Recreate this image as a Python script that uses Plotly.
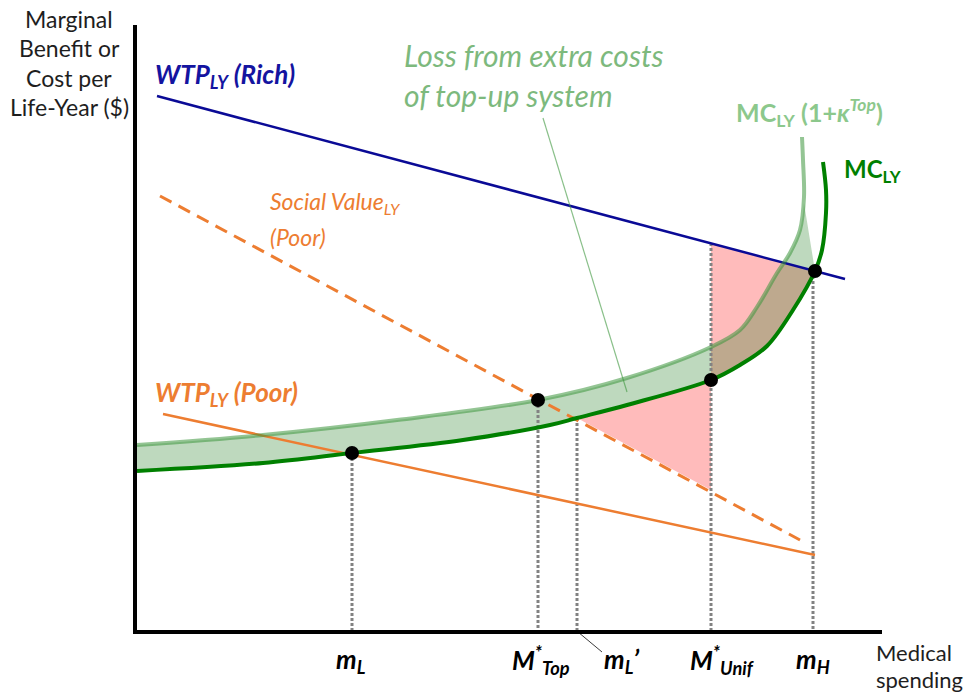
import plotly.graph_objects as go

# ---- data (x: medical spending units, y: $ per life-year units; origin at axis corner) ----
mc_x = [2, 128, 217, 328, 415, 442, 492, 576, 605, 632, 658, 680, 687, 691, 691, 688]
mc_y = [161, 169, 179, 192, 207, 214, 227, 252, 267, 286, 322, 361, 382, 419, 442, 470]

mc_top_x = [2, 128, 262, 403, 492, 576, 605, 622, 642, 655, 665, 669, 668, 667]
mc_top_y = [187, 197, 212, 232, 254, 285, 302, 325, 359, 379, 402, 435, 472, 495]
mc_top_fill_tip = (669, 429)

wtp_rich_x = [22, 710]
wtp_rich_y = [536, 353]
social_x = [25, 665]
social_y = [436, 92]
wtp_poor_x = [28, 680]
wtp_poor_y = [218, 77]

eq_names = ["m_L", "M*_Top", "m_L'", "M*_Unif", "m_H"]
eq_x = [217, 403, 442, 576, 678]
eq_top = [179, 232, 214, 389, 361]
eq_tick_text = ["<b><i>m<sub>L</sub></i></b>",
                "<b><i>M<sup>*</sup><sub>Top</sub></i></b>",
                "<b><i>m<sub>L</sub>’</i></b>",
                "<b><i>M<sup>*</sup><sub>Unif</sub></i></b>",
                "<b><i>m<sub>H</sub></i></b>"]
eq_label_x = [216, 406, 486, 587, 678]

dot_x = [217, 403, 576, 680]
dot_y = [179, 232, 252, 361]

# pink (deadweight) region corners
pink_x = [442, 576, 576, 680]
pink_y = [214, 142, 389, 361]

FONT = "Lato"
fig = go.Figure()

# --- pink region: dark MC segment (invisible) then polygon to it ---
seg_idx = [i for i, x in enumerate(mc_x) if 442 <= x <= 680 and mc_y[i] <= 361]
fig.add_trace(go.Scatter(x=[mc_x[i] for i in seg_idx], y=[mc_y[i] for i in seg_idx],
                         mode="lines", line=dict(width=0, shape="spline"),
                         hoverinfo="skip", showlegend=False))
fig.add_trace(go.Scatter(x=pink_x, y=pink_y, mode="lines",
                         line=dict(width=0), fill="tonexty",
                         fillcolor="rgb(255,187,187)", hoverinfo="skip", showlegend=False))

# --- green band between MC and MC(1+k) ---
dark_idx = [i for i, y in enumerate(mc_y) if y <= 361]
fig.add_trace(go.Scatter(x=[mc_x[i] for i in dark_idx], y=[mc_y[i] for i in dark_idx],
                         mode="lines", line=dict(width=0, shape="spline"),
                         hoverinfo="skip", showlegend=False))
light_idx = [i for i, y in enumerate(mc_top_y) if y <= 402]
fig.add_trace(go.Scatter(x=[mc_top_x[i] for i in light_idx] + [mc_top_fill_tip[0]],
                         y=[mc_top_y[i] for i in light_idx] + [mc_top_fill_tip[1]],
                         mode="lines", line=dict(width=0, shape="spline"),
                         fill="tonexty", fillcolor="rgba(40,130,40,0.30)",
                         hoverinfo="skip", showlegend=False))

# --- dotted verticals ---
for x, top in zip(eq_x, eq_top):
    fig.add_trace(go.Scatter(x=[x, x], y=[top, 0], mode="lines",
                             line=dict(color="rgb(130,130,130)", width=3, dash="3px,2px"),
                             hoverinfo="skip", showlegend=False))

# --- lines ---
fig.add_trace(go.Scatter(x=wtp_rich_x, y=wtp_rich_y, mode="lines",
                         line=dict(color="rgb(10,10,150)", width=2.5), showlegend=False))
fig.add_trace(go.Scatter(x=social_x, y=social_y, mode="lines",
                         line=dict(color="rgb(237,125,49)", width=3, dash="13px,8px"), showlegend=False))
fig.add_trace(go.Scatter(x=wtp_poor_x, y=wtp_poor_y, mode="lines",
                         line=dict(color="rgb(237,125,49)", width=2.5), showlegend=False))
fig.add_trace(go.Scatter(x=mc_top_x, y=mc_top_y, mode="lines",
                         line=dict(color="rgba(60,150,60,0.55)", width=4, shape="spline"),
                         showlegend=False))
fig.add_trace(go.Scatter(x=mc_x, y=mc_y, mode="lines",
                         line=dict(color="rgb(0,128,0)", width=4, shape="spline"),
                         showlegend=False))

# --- dots ---
fig.add_trace(go.Scatter(x=dot_x, y=dot_y, mode="markers",
                         marker=dict(color="black", size=14), showlegend=False))

# --- leader lines ---
fig.add_trace(go.Scatter(x=[408, 492], y=[514, 240], mode="lines",
                         line=dict(color="rgba(60,150,60,0.6)", width=1.2), showlegend=False))
fig.add_trace(go.Scatter(x=[443, 467], y=[0, -20], mode="lines",
                         line=dict(color="rgb(60,60,60)", width=1), showlegend=False))

# --- axes ---
fig.add_shape(type="line", x0=0, y0=0, x1=747, y1=0, line=dict(color="black", width=4))
fig.add_shape(type="line", x0=0, y0=-2, x1=0, y1=607, line=dict(color="black", width=4))

def ann(x, y, text, size, color, xanchor="left"):
    fig.add_annotation(x=x, y=y, text=text, showarrow=False, xanchor=xanchor, yanchor="middle",
                       font=dict(family=FONT, size=size, color=color))

# y-axis title
for i, t in enumerate(["Marginal", "Benefit or", "Cost per", "Life-Year ($)"]):
    ann(-66, 613 - i * 29.3, t, 23, "rgb(30,30,30)", xanchor="center")

ann(18, 557, "<b><i>WTP<sub>LY</sub> (Rich)</i></b>", 26, "rgb(20,20,160)")
ann(133, 430, "<i>Social Value<sub>LY</sub></i>", 23, "rgb(237,125,49)")
ann(133, 395, "<i>(Poor)</i>", 23, "rgb(237,125,49)")
ann(18, 239, "<b><i>WTP<sub>LY</sub> (Poor)</i></b>", 26, "rgb(237,125,49)")
ann(267, 577, "<i>Loss from extra costs</i>", 30, "rgb(125,185,125)")
ann(267, 537, "<i>of top-up system</i>", 30, "rgb(125,185,125)")
ann(599, 520, "<b>MC<sub>LY</sub> (1+<i>κ<sup>Top</sup></i>)</b>", 25, "rgb(140,200,140)")
ann(707, 462, "<b>MC<sub>LY</sub></b>", 24, "rgb(0,128,0)")

for lx, t in zip(eq_label_x, eq_tick_text):
    ann(lx, -28, t, 26, "black", xanchor="center")

ann(739, -20, "Medical", 22, "rgb(30,30,30)")
ann(739, -47, "spending", 22, "rgb(30,30,30)")

fig.update_layout(width=974, height=700, autosize=False,
                  margin=dict(l=0, r=0, t=0, b=0),
                  paper_bgcolor="white", plot_bgcolor="white",
                  xaxis=dict(range=[-135, 839], visible=False, fixedrange=True),
                  yaxis=dict(range=[-68, 632], visible=False, fixedrange=True))
fig.write_html("out.html", config={"displayModeBar": False},
               post_script="document.body.style.margin='0px';document.body.style.padding='0px';")
